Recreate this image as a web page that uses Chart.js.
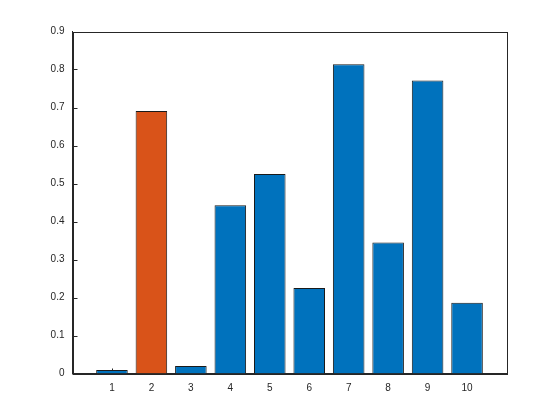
<!DOCTYPE html>
<html>
<head>
<meta charset="utf-8">
<script src="https://cdn.jsdelivr.net/npm/chart.js@4/dist/chart.umd.min.js"></script>
<style>
  html, body { margin: 0; padding: 0; background: #fff; }
  #c { display: block; }
</style>
</head>
<body>
<canvas id="c" width="560" height="420"></canvas>
<script>
// values
const categories = [1, 2, 3, 4, 5, 6, 7, 8, 9, 10];
const values = [0.009, 0.691, 0.020, 0.443, 0.525, 0.225, 0.814, 0.345, 0.771, 0.186];
const highlighted = [2];
const yTicks = [0, 0.1, 0.2, 0.3, 0.4, 0.5, 0.6, 0.7, 0.8, 0.9];

const blue = '#0072BD';
const orange = '#D95319';
const axisColor = '#262626';

// box round the plot and small inward ticks, like octave draws them
const boxPlugin = {
    id: 'box',
    beforeDatasetsDraw(chart) {
        const ctx = chart.ctx;
        const x = chart.scales.x, y = chart.scales.y;
        ctx.save();
        ctx.strokeStyle = axisColor;
        ctx.lineWidth = 1;
        ctx.beginPath();
        yTicks.forEach(v => {
            const py = Math.round(y.getPixelForValue(v)) + 0.5;
            ctx.moveTo(x.left, py);
            ctx.lineTo(x.left + 5, py);
        });
        categories.forEach(v => {
            const px = Math.round(x.getPixelForValue(v)) + 0.5;
            ctx.moveTo(px, y.bottom);
            ctx.lineTo(px, y.bottom - 5);
        });
        ctx.stroke();
        ctx.restore();
    },
    afterDraw(chart) {
        const ctx = chart.ctx;
        const a = chart.chartArea;
        ctx.save();
        ctx.strokeStyle = axisColor;
        ctx.lineWidth = 1;
        ctx.strokeRect(Math.round(a.left) + 0.5, Math.round(a.top) + 0.5,
            Math.round(a.right - a.left), Math.round(a.bottom - a.top));
        ctx.restore();
    }
};

new Chart(document.getElementById('c'), {
    type: 'bar',
    data: {
        datasets: [{
            data: categories.map((c, i) => ({ x: c, y: values[i] })),
            backgroundColor: categories.map(c => highlighted.includes(c) ? orange : blue),
            borderColor: '#1a1a1a',
            borderWidth: 1,
            barPercentage: 0.8,
            categoryPercentage: 1.0
        }]
    },
    options: {
        responsive: false,
        animation: false,
        layout: { padding: { top: 31.5, right: 53.5, bottom: 0, left: 0 } },
        plugins: { legend: { display: false }, tooltip: { enabled: false } },
        scales: {
            x: {
                type: 'linear',
                min: 0,
                max: 11,
                offset: false,
                grid: { display: false, drawTicks: false, offset: false },
                border: { color: axisColor, width: 1 },
                afterFit(scale) { scale.height = 46.5; },
                ticks: {
                    stepSize: 1,
                    padding: 9,
                    color: axisColor,
                    font: { family: 'Liberation Sans', size: 10 },
                    callback: v => categories.includes(v) ? String(v) : ''
                }
            },
            y: {
                min: 0,
                max: 0.9,
                grid: { display: false, drawTicks: false },
                border: { color: axisColor, width: 1 },
                afterFit(scale) { scale.width = 72.5; },
                ticks: {
                    stepSize: 0.1,
                    padding: 8,
                    color: axisColor,
                    font: { family: 'Liberation Sans', size: 10 }
                }
            }
        }
    },
    plugins: [boxPlugin]
});
</script>
</body>
</html>
